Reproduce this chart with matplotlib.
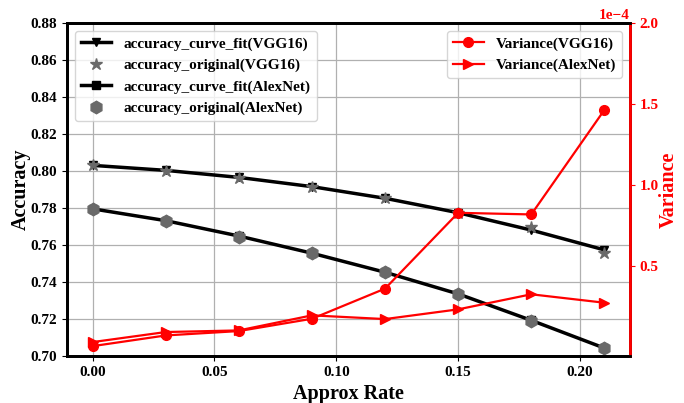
import numpy as np
import matplotlib
matplotlib.use('Agg')
import matplotlib.pyplot as plt

plt.rcParams['font.family'] = ['Liberation Serif', 'DejaVu Serif']
plt.rcParams['font.weight'] = 'bold'
plt.rcParams['mathtext.default'] = 'bf'

# Data
approx_rate = [0.00, 0.03, 0.06, 0.09, 0.12, 0.15, 0.18, 0.21]

acc_fit_vgg = [0.8030, 0.8003, 0.7965, 0.7915, 0.7852, 0.7774, 0.7680, 0.7573]
acc_orig_vgg = [0.8032, 0.7998, 0.7960, 0.7912, 0.7852, 0.7770, 0.7699, 0.7555]
acc_fit_alex = [0.7795, 0.7731, 0.7648, 0.7555, 0.7452, 0.7335, 0.7192, 0.7042]
acc_orig_alex = [0.7795, 0.7730, 0.7645, 0.7557, 0.7456, 0.7333, 0.7189, 0.7040]

var_vgg = [0.005e-4, 0.071e-4, 0.098e-4, 0.174e-4, 0.360e-4, 0.828e-4, 0.818e-4, 1.463e-4]
var_alex = [0.030e-4, 0.092e-4, 0.102e-4, 0.195e-4, 0.172e-4, 0.232e-4, 0.325e-4, 0.273e-4]

###############################################################################
fig = plt.figure(figsize=(6.84, 4.03), dpi=100)
ax1 = fig.add_axes([0.098, 0.117, 0.823, 0.826])

ax1.plot(approx_rate, acc_fit_vgg, color='black', linewidth=2.5,
         marker='v', markersize=6, label='accuracy_curve_fit(VGG16)')
ax1.plot(approx_rate, acc_orig_vgg, linestyle='none', color='dimgray',
         marker='*', markersize=9, label='accuracy_original(VGG16)')
ax1.plot(approx_rate, acc_fit_alex, color='black', linewidth=2.5,
         marker='s', markersize=6, label='accuracy_curve_fit(AlexNet)')
ax1.plot(approx_rate, acc_orig_alex, linestyle='none', color='dimgray',
         marker='h', markersize=9, label='accuracy_original(AlexNet)')

ax1.set_ylim(0.70, 0.88)
ax1.set_yticks(np.arange(0.70, 0.881, 0.02))
ax1.set_xticks([0.00, 0.05, 0.10, 0.15, 0.20])
ax1.set_xlabel('Approx Rate', fontsize=14.5, fontweight='bold')
ax1.set_ylabel('Accuracy', fontsize=14.5, fontweight='bold', labelpad=0)
ax1.tick_params(labelsize=11)
ax1.grid(color='#b0b0b0', linewidth=0.9)
for s in ax1.spines.values():
    s.set_linewidth(2)
ax1.legend(loc='upper left', fontsize=11, framealpha=0.8)

ax2 = ax1.twinx()
ax2.plot(approx_rate, var_vgg, color='red', linewidth=1.6,
         marker='o', markersize=7, label='Variance(VGG16)')
ax2.plot(approx_rate, var_alex, color='red', linewidth=1.6,
         marker='>', markersize=7, label='Variance(AlexNet)')
ax2.set_ylim(-0.055e-4, 2.0e-4)
ax2.set_yticks([0.5e-4, 1.0e-4, 1.5e-4, 2.0e-4])
ax2.ticklabel_format(axis='y', style='sci', scilimits=(0, 0))
ax2.set_ylabel('Variance', fontsize=14.5, fontweight='bold', color='red',
               labelpad=0)
ax2.tick_params(axis='y', colors='red', labelsize=11)
ax2.yaxis.get_offset_text().set_color('red')
ax2.yaxis.get_offset_text().set_fontsize(11)
ax2.yaxis.get_offset_text().set_fontweight('bold')
for s in ax2.spines.values():
    s.set_linewidth(2)
ax2.spines['right'].set_color('red')
ax2.legend(loc='upper right', fontsize=11, framealpha=0.8)

plt.savefig('out.png', dpi=100)
